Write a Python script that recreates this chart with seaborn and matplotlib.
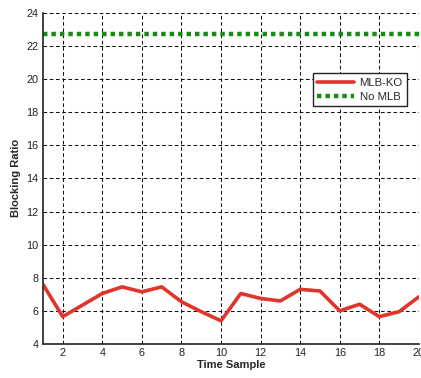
import matplotlib
matplotlib.use("Agg")
import matplotlib.pyplot as plt
import seaborn as sns
import pandas as pd

# Blocking ratio per time sample
time_sample = list(range(1, 21))
mlb_ko = [7.6, 5.65, 6.35, 7.05, 7.45, 7.15, 7.45, 6.55, 5.95, 5.4,
          7.05, 6.75, 6.6, 7.3, 7.2, 6.0, 6.4, 5.65, 5.95, 6.85]
no_mlb = [22.7] * 20

x_ticks = [2, 4, 6, 8, 10, 12, 14, 16, 18, 20]
y_ticks = [4, 6, 8, 10, 12, 14, 16, 18, 20, 22, 24]

sns.set_theme(style="white")
plt.rcParams["font.family"] = ["Liberation Sans", "DejaVu Sans"]

df = pd.DataFrame({
    "Time Sample": time_sample * 2,
    "Blocking Ratio": mlb_ko + no_mlb,
    "series": ["MLB-KO"] * 20 + ["No MLB"] * 20,
})

fig = plt.figure(figsize=(4.21, 3.78), dpi=100)
ax = fig.add_axes([0.102, 0.09, 0.893, 0.876])

sns.lineplot(data=df[df.series == "MLB-KO"], x="Time Sample", y="Blocking Ratio",
             color="#e0352b", linewidth=2.6, ax=ax, label="MLB-KO")
sns.lineplot(data=df[df.series == "No MLB"], x="Time Sample", y="Blocking Ratio",
             color="#178a17", linewidth=3.2, linestyle=(0, (1.0, 0.9)), ax=ax,
             label="No MLB")

ax.set_xlim(1, 20)
ax.set_ylim(4, 24)
ax.set_xticks(x_ticks)
ax.set_yticks(y_ticks)
ax.tick_params(axis="both", labelsize=7.8, length=0, pad=3, colors="#222222")
ax.grid(True, color="#111111", linestyle=(0, (3.5, 2.5)), linewidth=0.75)

for side in ("top", "right"):
    ax.spines[side].set_visible(False)
for side in ("left", "bottom"):
    ax.spines[side].set_color("#333333")
    ax.spines[side].set_linewidth(1.3)

ax.set_xlabel("Time Sample", fontsize=8, fontweight="bold", labelpad=1)
ax.set_ylabel("Blocking Ratio", fontsize=8, fontweight="bold", labelpad=4)

leg = ax.legend(loc="upper left", bbox_to_anchor=(0.718, 0.818), fontsize=8.2,
                frameon=True, fancybox=False, handlelength=3.2,
                borderpad=0.4, labelspacing=0.35, handletextpad=0.5,
                borderaxespad=0)
leg.get_frame().set_edgecolor("#222222")
leg.get_frame().set_linewidth(1.0)
leg.get_frame().set_alpha(1.0)

fig.savefig("out.png", dpi=100)
